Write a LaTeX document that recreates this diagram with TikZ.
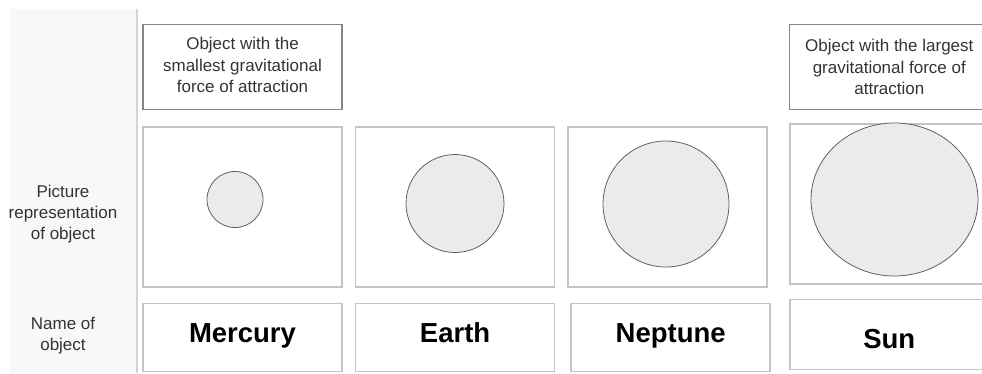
\documentclass[tikz,border=0pt]{standalone}
\definecolor{panelGrey}{HTML}{F7F8FA}
\definecolor{dividerGrey}{HTML}{D4D4D4}
\definecolor{frameDark}{HTML}{858585}
\definecolor{frameLight}{HTML}{C4C4C4}
\definecolor{planetFill}{HTML}{EBEBEB}
\definecolor{planetEdge}{HTML}{606060}
\definecolor{labelText}{HTML}{333333}
\usepackage{fontspec}
\setmainfont{Liberation Sans}
\usepackage{tikz}
\usetikzlibrary{positioning, shapes.geometric}

\begin{document}
\begin{tikzpicture}[
        x=1pt, y=-1pt,
        topbox/.style={draw=frameDark, line width=1.3pt, minimum width=199pt, minimum height=85pt, align=center, text=labelText, font=\fontsize{17}{21.5}\selectfont},
        picbox/.style={draw=frameLight, line width=1.6pt, minimum width=199pt, minimum height=160pt},
        namebox/.style={draw=frameLight, line width=1.6pt, minimum width=199pt, minimum height=68pt, text height=20pt, text depth=10pt, font=\fontsize{27.5}{30}\selectfont\bfseries},
        planet/.style={circle, draw=planetEdge, fill=planetFill, line width=0.8pt, inner sep=0pt},
        rowlabel/.style={align=center, text=labelText, font=\fontsize{17}{21}\selectfont}
      ]
        \useasboundingbox (0,0) rectangle (982,373);

        % Left label column
        \fill[panelGrey] (10,9) rectangle (136,373);
        \draw[dividerGrey, line width=2pt] (137,9) -- (137,373);
        \node[rowlabel] (picrow) at (63,214) {Picture\\representation\\of object};
        \node[rowlabel] (namerow) at (63,336) {Name of\\object};

        % Mercury column
        \node[topbox, text depth=4pt] (smallest) at (242.5,67) {Object with the\\smallest gravitational\\force of attraction};
        \node[picbox, below=16pt of smallest] (mercurypic) {};
        \node[namebox, below=15pt of mercurypic] (mercuryname) {Mercury};
        \node[planet, minimum size=56pt] (mercury) at (235,199.5) {};

        % Earth column
        \node[picbox, right=12pt of mercurypic] (earthpic) {};
        \node[namebox, below=15pt of earthpic] (earthname) {Earth};
        \node[planet, minimum size=98pt] (earth) at (455,203.5) {};

        % Neptune column
        \node[picbox, right=12pt of earthpic] (neptunepic) {};
        \node[namebox, below=15pt of neptunepic, xshift=3pt] (neptunename) {Neptune};
        \node[planet, minimum size=126pt] (neptune) at (666,204) {};

        % Sun column
        \node[picbox, right=21pt of neptunepic, yshift=3pt] (sunpic) {};
        \node[topbox, above=13pt of sunpic] (largest) {Object with the largest\\gravitational force of\\attraction};
        \node[namebox, below=14pt of sunpic, minimum height=70pt, text height=28pt, text depth=0pt] (sunname) {Sun};
        \node[planet, ellipse, minimum width=167pt, minimum height=153pt] (sun) at (894.5,199.5) {};
      \end{tikzpicture}
\end{document}
